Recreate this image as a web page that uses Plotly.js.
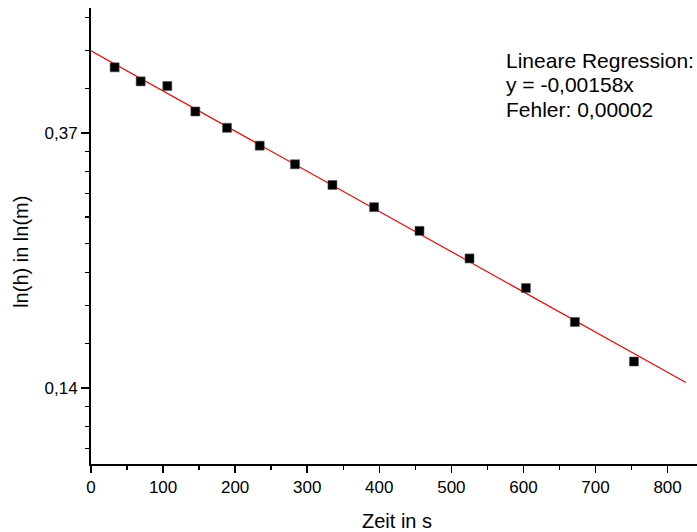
<!DOCTYPE html>
<html>
<head>
<meta charset="utf-8">
<script src="https://cdn.plot.ly/plotly-3.0.1.min.js"></script>
<style>html,body{margin:0;padding:0;background:#fff;}#chart{width:697px;height:532px;}</style>
</head>
<body>
<div id="chart"></div>
<script>
// Measured data: time in s, ln(h)
const zeit = [32.8, 68.9, 105.9, 144.8, 188.7, 234.1, 283.1, 335.0, 392.8, 455.8, 525.2, 603.4, 671.4, 753.3];
const lnH = [-0.743, -0.798, -0.816, -0.916, -0.980, -1.050, -1.123, -1.204, -1.291, -1.384, -1.492, -1.608, -1.741, -1.896];
// Regression line endpoints (as drawn)
const fitX = [0, 825.5];
const fitY = [-0.678, -1.978];
// Y tick labels (ln scale: e^-1, e^-2)
const yTickVals = [-1, -2];
const yTickText = ['0,37', '0,14'];
const annText = ['Lineare Regression:', 'y = -0,00158x', 'Fehler: 0,00002'];
const xTitle = 'Zeit in s';
const yTitle = 'ln(h) in ln(m)';

// minor ticks: linear steps within each e-decade
const yMinor = [];
for (let d = -3; d <= 0; d++) {
  const lo = Math.exp(d - 1), hi = Math.exp(d);
  for (let k = 1; k <= 8; k++) yMinor.push(Math.log(lo + k * (hi - lo) / 9));
}

const font = 'Liberation Sans, Arial, sans-serif';
const W = 697, H = 532, L = 91, T = 8, PW = 606, PH = 456.3;
const px = (x) => (x - L) / PW;
const py = (y) => 1 - (y - T) / PH;

const data = [
  {x: fitX, y: fitY, mode: 'lines', line: {color: '#ff0000', width: 1.2}, hoverinfo: 'skip'},
  {x: zeit, y: lnH, mode: 'markers', marker: {symbol: 'square', size: 9, color: '#000', line: {color: '#555', width: 0.6}}}
];
const annotations = annText.map((t, i) => ({
  text: t, xref: 'paper', yref: 'paper', x: px(504), xanchor: 'left',
  y: py(60.5 + i * 24.5), yanchor: 'middle', showarrow: false,
  font: {family: font, size: 21, color: '#000'}
}));
annotations.push({text: xTitle, xref: 'paper', yref: 'paper', x: px(397), y: py(521), xanchor: 'center', yanchor: 'middle', showarrow: false, font: {family: font, size: 20, color: '#000'}});
annotations.push({text: yTitle, xref: 'paper', yref: 'paper', x: px(21), y: py(252), xanchor: 'center', yanchor: 'middle', textangle: -90, showarrow: false, font: {family: font, size: 20, color: '#000'}});

const layout = {
  width: W, height: H,
  margin: {l: L, r: 0, t: T, b: H - T - PH},
  paper_bgcolor: '#fff', plot_bgcolor: '#fff',
  showlegend: false,
  font: {family: font, size: 17, color: '#000'},
  xaxis: {
    range: [0, 840.8], showgrid: false, zeroline: false,
    showline: true, linecolor: '#000', linewidth: 2,
    ticks: 'outside', ticklen: 7, tickwidth: 1.5, tickcolor: '#000',
    tickmode: 'linear', tick0: 0, dtick: 100,
    minor: {ticks: 'outside', ticklen: 4, tickwidth: 1.5, tickcolor: '#000', tickmode: 'linear', tick0: 0, dtick: 50, showgrid: false},
    tickfont: {family: font, size: 17, color: '#000'},
    automargin: false
  },
  yaxis: {
    range: [-2.2977, -0.5104], showgrid: false, zeroline: false,
    showline: true, linecolor: '#000', linewidth: 2,
    ticks: 'outside', ticklen: 8, tickwidth: 1.5, tickcolor: '#000',
    tickmode: 'array', tickvals: yTickVals, ticktext: yTickText,
    minor: {ticks: 'outside', ticklen: 4, tickwidth: 1.5, tickcolor: '#000', tickmode: 'array', tickvals: yMinor, showgrid: false},
    tickfont: {family: font, size: 17, color: '#000'},
    automargin: false
  },
  annotations: annotations
};
Plotly.newPlot('chart', data, layout, {staticPlot: true});
</script>
</body>
</html>
